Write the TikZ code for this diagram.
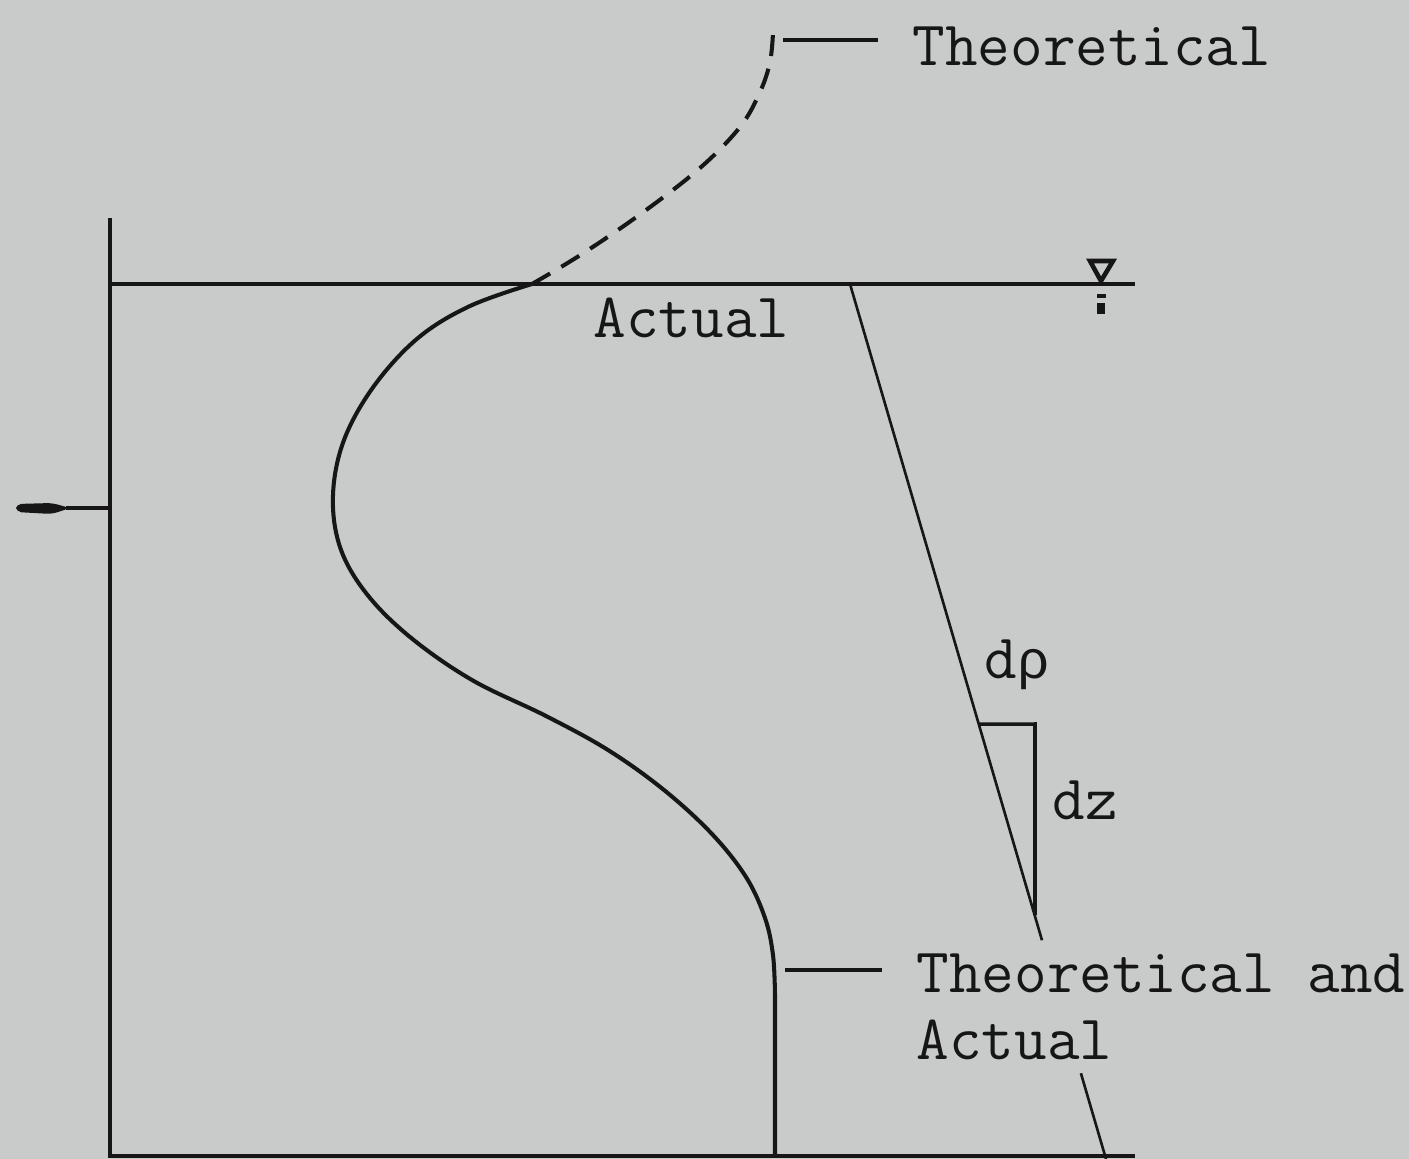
\documentclass[tikz,border=0pt]{standalone}
\usepackage{fontspec}
\newfontfamily\grego{Liberation Mono}
\usetikzlibrary{
    positioning,
    calc,
    arrows.meta
}
\definecolor{CinzaPapel}{HTML}{C9CBCA}
\definecolor{TintaEscura}{HTML}{161616}

\begin{document}
\begin{tikzpicture}[
        x=0.1mm,
        y=-0.1mm,
        parede/.style={draw=TintaEscura, line width=1.15pt},
        fina/.style={draw=TintaEscura, line width=0.75pt},
        rotulo/.style={
            inner sep=0pt,
            text=TintaEscura,
            font=\ttfamily\fontsize{18pt}{19pt}\selectfont
        }
    ]

    \fill[CinzaPapel] (0,0) rectangle (1409,1159);
    \useasboundingbox (0,0) rectangle (1409,1159);

    \coordinate (paredeTopo) at (110,218);
    \coordinate (paredeBase) at (110,1156);
    \coordinate (nivelFim) at (1135,284);
    \coordinate (fundoFim) at (1135,1156);

    \draw[parede] (paredeTopo) -- (paredeBase) -- (fundoFim);
    \draw[parede] (paredeTopo |- nivelFim) -- (nivelFim);

    \draw[parede, line width=0.9pt] (110,508) -- (66,508);
    \fill[TintaEscura, rounded corners=1.5pt]
        (16,504) -- (52,503) -- (70,508) -- (52,514) -- (16,512) -- cycle;

    \draw[TintaEscura, line width=1.3pt]
        (1090,261) -- (1113,261) -- (1101,281) -- cycle;
    \draw[TintaEscura, line width=1.3pt] (1097,296) -- (1106,296);
    \draw[TintaEscura, line width=2.2pt] (1101,303) -- (1101,314);

    \draw[parede] plot[smooth, tension=0.6] coordinates {
        (532,284) (470,306) (418,338) (374,386) (344,440) (333,495)
        (340,547) (366,593) (410,637) (472,680) (546,716) (608,750)
        (664,790) (712,834) (746,877) (765,918) (773,955) (775,995)
    } -- (775,1156);

    \draw[parede, dash pattern=on 2.1mm off 1.3mm]
        plot[smooth, tension=0.6] coordinates {
        (532,284) (582,254) (642,213) (700,168) (740,127) (760,92)
        (770,62) (773,33)
    };

    \node[rotulo, inner xsep=3.4mm, anchor=base west] (teorico)
        at (878,65) {Theoretical};
    \coordinate (ramoTeo) at (783,40);
    \draw[parede] (ramoTeo) -- (ramoTeo -| teorico.west);

    \node[rotulo, anchor=base west] (real) at (593,337) {Actual};

    \node[rotulo, inner xsep=3.4mm, align=left, anchor=north west] (ambos)
        at (882,953) {Theoretical and\\Actual};
    \coordinate (ramoAmbos) at (785,970);
    \draw[parede] (ramoAmbos) -- (ramoAmbos -| ambos.west);

    \coordinate (retaTopo) at (850,284);
    \coordinate (retaBase) at (1106,1159);
    \draw[fina] (retaTopo) -- ($(retaTopo)!0.75!(retaBase)$);
    \draw[fina] ($(retaTopo)!0.902!(retaBase)$) -- (retaBase);

    \coordinate (dpInicio) at ($(retaTopo)!0.503!(retaBase)$);
    \coordinate (dpCanto) at (1035,724);
    \draw[parede, line width=1pt]
        (dpInicio) -- (dpCanto) -- (dpCanto |- 0,915);

    \node[rotulo] (drho) at (1017,665) {d{\grego\fontsize{15.4pt}{19pt}\selectfont ρ}};
    \node[rotulo] (dz) at (1085,800) {dz};

\end{tikzpicture}
\end{document}
